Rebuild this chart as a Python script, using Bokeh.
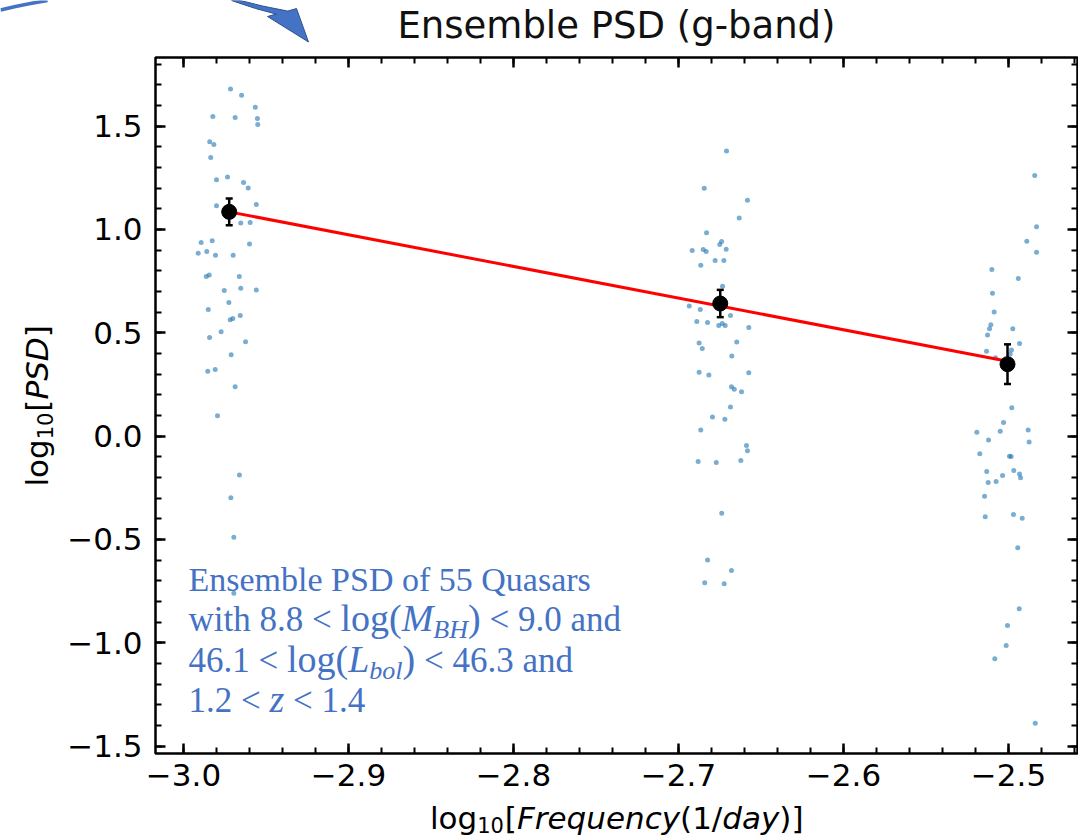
import math
from bokeh.plotting import figure
from bokeh.layouts import column, row
from bokeh.models import (Range1d, FixedTicker, CustomJSTickFormatter, LinearAxis, Label)
from bokeh.embed import file_html
from bokeh.resources import INLINE

# ---------------- data ----------------
freq_a = [-2.9715, -2.9648, -2.9565, -2.9822, -2.9687, -2.9552, -2.9550, -2.9841, -2.9816, -2.9835,
          -2.9800, -2.9733, -2.9636, -2.9608, -2.9800, -2.9559, -2.9653, -2.9596, -2.9893, -2.9826,
          -2.9600, -2.9911, -2.9859, -2.9806, -2.9699, -2.9862, -2.9844, -2.9662, -2.9753, -2.9653,
          -2.9559, -2.9725, -2.9850, -2.9717, -2.9701, -2.9656, -2.9772, -2.9842, -2.9624, -2.9711,
          -2.9853, -2.9808, -2.9687, -2.9794, -2.9661, -2.9713, -2.9695, -2.9695]
psd_a = [1.680, 1.649, 1.591, 1.547, 1.542, 1.537, 1.508, 1.424, 1.411, 1.348,
         1.241, 1.254, 1.227, 1.200, 1.115, 1.121, 1.031, 1.033, 0.937, 0.945,
         0.929, 0.885, 0.893, 0.875, 0.875, 0.772, 0.780, 0.772, 0.705, 0.715,
         0.707, 0.647, 0.613, 0.563, 0.569, 0.584, 0.505, 0.477, 0.456, 0.393,
         0.314, 0.322, 0.239, 0.099, -0.188, -0.298, -0.490, -0.761]

freq_b = [-2.6709, -2.6844, -2.6582, -2.6632, -2.6830, -2.6739, -2.6750, -2.6711, -2.6917, -2.6850,
          -2.6832, -2.6778, -2.6725, -2.6865, -2.6733, -2.6935, -2.6868, -2.6685, -2.6889, -2.6824,
          -2.6756, -2.6735, -2.6717, -2.6574, -2.6875, -2.6856, -2.6647, -2.6677, -2.6875, -2.6816,
          -2.6574, -2.6679, -2.6662, -2.6618, -2.6685, -2.6794, -2.6719, -2.6865, -2.6588, -2.6582,
          -2.6881, -2.6771, -2.6622, -2.6738, -2.6824, -2.6679, -2.6841, -2.6723]
psd_b = [1.380, 1.199, 1.141, 1.055, 0.984, 0.942, 0.927, 0.904, 0.898, 0.903,
         0.893, 0.850, 0.850, 0.827, 0.725, 0.630, 0.612, 0.583, 0.555, 0.550,
         0.535, 0.545, 0.535, 0.526, 0.451, 0.424, 0.455, 0.387, 0.309, 0.295,
         0.306, 0.239, 0.227, 0.215, 0.141, 0.092, 0.081, 0.030, -0.045, -0.071,
         -0.123, -0.128, -0.118, -0.374, -0.600, -0.650, -0.710, -0.715]

freq_c = [-2.4841, -2.4830, -2.4889, -2.4830, -2.5101, -2.4941, -2.5097, -2.5087, -2.5107, -2.5115,
          -2.5127, -2.4974, -2.4933, -2.5133, -2.4982, -2.5079, -2.4990, -2.4980, -2.5030, -2.5192,
          -2.5121, -2.5050, -2.4881, -2.4875, -2.5174, -2.4994, -2.4984, -2.5132, -2.5123, -2.5075,
          -2.5036, -2.4968, -2.4933, -2.4927, -2.5145, -2.5141, -2.4970, -2.4917, -2.4944, -2.4935,
          -2.5006, -2.5014, -2.5083, -2.4838]
psd_c = [1.261, 1.013, 0.943, 0.890, 0.806, 0.762, 0.691, 0.600, 0.539, 0.519,
         0.489, 0.519, 0.448, 0.411, 0.417, 0.379, 0.397, 0.137, 0.066, 0.019,
         -0.019, 0.023, 0.029, -0.029, -0.086, -0.097, -0.099, -0.171, -0.225, -0.220,
         -0.191, -0.167, -0.183, -0.202, -0.291, -0.390, -0.379, -0.398, -0.540, -0.836,
         -0.917, -1.013, -1.078, -1.390]

mean_freq = [-2.9723, -2.6747, -2.5006]
mean_psd = [1.085, 0.6415, 0.348]
mean_err = [0.065, 0.066, 0.096]

fit_freq = [-2.9723, -2.5006]
fit_psd = [1.085, 0.362]

x_ticks = [-3.0, -2.9, -2.8, -2.7, -2.6, -2.5]
x_minor = [round(-3.04 + 0.02 * i, 2) for i in range(32)]
y_ticks = [-1.5, -1.0, -0.5, 0.0, 0.5, 1.0, 1.5]
y_minor = [round(-1.6 + 0.1 * i, 1) for i in range(36)]

title_text = "Ensemble PSD (g-band)"
note_color = "#4472C4"

# ---------------- layout sizes (page pixels) ----------------
W = 1078
H_HDR = 49
W_YL = 60
H_MAIN = 751
H_XL = 37
BASE_K = 0.375   # anchor correction (fraction of font size) for baseline placement


def blank(width, height):
    f = figure(width=width, height=height, x_range=Range1d(0, width), y_range=Range1d(height, 0),
               output_backend="svg", toolbar_location=None, min_border=0,
               x_axis_type=None, y_axis_type=None, outline_line_color=None)
    f.grid.visible = False
    return f


def label(fig, x, y, text, size, style="normal", color="black", font="DejaVu Sans",
          align="left", angle=0.0):
    # (x, y) is the wanted baseline point; shift the anchor to compensate rendering offset
    if angle:
        x = x - BASE_K * size
    else:
        y = y - BASE_K * size
    fig.add_layout(Label(x=x, y=y, x_units="canvas", y_units="canvas", text=text,
                         text_font=font, text_font_size=f"{size}px", text_font_style=style,
                         text_color=color, text_baseline="alphabetic", text_align=align,
                         angle=angle))


# ---------------- header: title + decorative arrow ----------------
hdr = blank(W, H_HDR)
label(hdr, 616, 39.3, title_text, 37, align="center", color="#111111")
arrow_x = [240, 262, 287.3, 296, 308, 267, 275.7, 255, 231]
arrow_y = [0, 5.5, 10.6, 8.0, 41.5, 16.0, 13.6, 8, 0]
hdr.patch(arrow_x, arrow_y, fill_color="#4472C4", line_color="#2F528F", line_width=1)
hdr.line([0, 15, 30, 47], [9.5, 6, 3, 0], line_color="#4472C4", line_width=3.5)

# ---------------- main plot ----------------
p = figure(width=W - W_YL, height=H_MAIN,
           x_range=Range1d(-3.01697, -2.45818), y_range=Range1d(-1.536, 1.832),
           output_backend="svg", toolbar_location=None,
           min_border_left=95, min_border_right=1, min_border_top=8, min_border_bottom=47,
           background_fill_color="white", border_fill_color="white")
p.grid.visible = False
p.outline_line_color = "black"
p.outline_line_width = 2.5

fmt_code = "return (tick < -1e-9 ? '\u2212' : '') + Math.abs(tick).toFixed(1);"


def style_axis(ax, ticks, minor, labels):
    ax.ticker = FixedTicker(ticks=ticks, minor_ticks=minor)
    ax.axis_line_color = None
    ax.major_tick_in = 10
    ax.major_tick_out = 0
    ax.minor_tick_in = 6
    ax.minor_tick_out = 0
    ax.major_tick_line_width = 2.5
    ax.minor_tick_line_width = 2
    ax.major_tick_line_color = "black"
    ax.minor_tick_line_color = "black"
    if labels:
        ax.formatter = CustomJSTickFormatter(code=fmt_code)
        ax.major_label_text_font = "DejaVu Sans"
        ax.major_label_text_font_size = "31px"
        ax.major_label_text_color = "black"
    else:
        ax.formatter = CustomJSTickFormatter(code="return '';")
        ax.major_label_text_font_size = "0px"
        ax.major_label_standoff = 0


style_axis(p.xaxis[0], x_ticks, x_minor, True)
p.xaxis[0].major_label_standoff = 10
style_axis(p.yaxis[0], y_ticks, y_minor, True)
p.yaxis[0].major_label_standoff = 13

top_ax = LinearAxis()
style_axis(top_ax, x_ticks, x_minor, False)
p.add_layout(top_ax, "above")
right_ax = LinearAxis()
style_axis(right_ax, y_ticks, y_minor, False)
p.add_layout(right_ax, "right")

for fx, py in ((freq_a, psd_a), (freq_b, psd_b), (freq_c, psd_c)):
    p.scatter(fx, py, size=5, fill_color="#1f77b4", fill_alpha=0.6, line_color=None)

p.line(fit_freq, fit_psd, line_color="red", line_width=3)

err_lo = [m - e for m, e in zip(mean_psd, mean_err)]
err_hi = [m + e for m, e in zip(mean_psd, mean_err)]
p.segment(x0=mean_freq, y0=err_lo, x1=mean_freq, y1=err_hi, line_color="black", line_width=2.5)
p.scatter(mean_freq, err_lo, marker="dash", size=7, line_color="black", line_width=2.5)
p.scatter(mean_freq, err_hi, marker="dash", size=7, line_color="black", line_width=2.5)
p.scatter(mean_freq, mean_psd, size=15, fill_color="black", line_color="black")

# blue note; positions given in page pixels, shifted to the main figure's canvas
NF, MF, SF = 35, 38, 26
serif = "Liberation Serif"
OX, OY = W_YL, H_HDR


def note(x, y, text, size=NF, style="normal"):
    label(p, x - OX, y - OY, text, size, style=style, color=note_color, font=serif)


nx = 188
note(nx, 591.7, "Ensemble PSD of 55 Quasars", size=34)
b2 = 631.7
note(nx, b2, "with 8.8 <")
note(nx + 151.97, b2, "log(", size=MF)
note(nx + 213.19, b2, "M", size=MF, style="italic")
note(nx + 244.84, b2 + 7, "BH", size=SF, style="italic")
note(nx + 279.5, b2, ")", size=MF)
note(nx + 300.9, b2, "< 9.0 and")
b3 = 673
note(nx, b3, "46.1 <")
note(nx + 98.49, b3, "log(", size=MF)
note(nx + 159.71, b3, "L", size=MF, style="italic")
note(nx + 180.84, b3 + 7, "bol", size=SF, style="italic")
note(nx + 214.07, b3, ")", size=MF)
note(nx + 235.47, b3, "< 46.3 and")
b4 = 713
note(nx, b4, "1.2 <")
note(nx + 80.99, b4, "z", size=MF, style="italic")
note(nx + 104.52, b4, "< 1.4")

# ---------------- y axis label strip ----------------
ylab = blank(W_YL, H_MAIN)
F = 31
SUB = 21
a = math.pi / 2
by, bx = 437, 48
for off, txt, size, st, dx in [(0, "log", F, "normal", 0), (47.26, "10", SUB, "normal", 4),
                               (74.87, "[", F, "normal", 0), (86.97, "PSD", F, "italic", 0),
                               (149.21, "]", F, "normal", 0)]:
    label(ylab, bx + dx, by - off, txt, size, style=st, angle=a)

# ---------------- x axis label strip ----------------
xlab = blank(W, H_XL)
x0, base = 429.5, 29
for off, txt, size, st, dy in [(0, "log", F, "normal", 0), (47.26, "10", SUB, "normal", 3),
                               (74.87, "[", F, "normal", 0), (86.97, "Frequency", F, "italic", 0),
                               (250.05, "(1/", F, "normal", 0), (292.31, "day", F, "italic", 0),
                               (349.33, ")]", F, "normal", 0)]:
    label(xlab, x0 + off, base + dy, txt, size, style=st)

layout = column(hdr, row(ylab, p, spacing=0), xlab, spacing=0)

open("out.html", "w").write(file_html(layout, INLINE))
